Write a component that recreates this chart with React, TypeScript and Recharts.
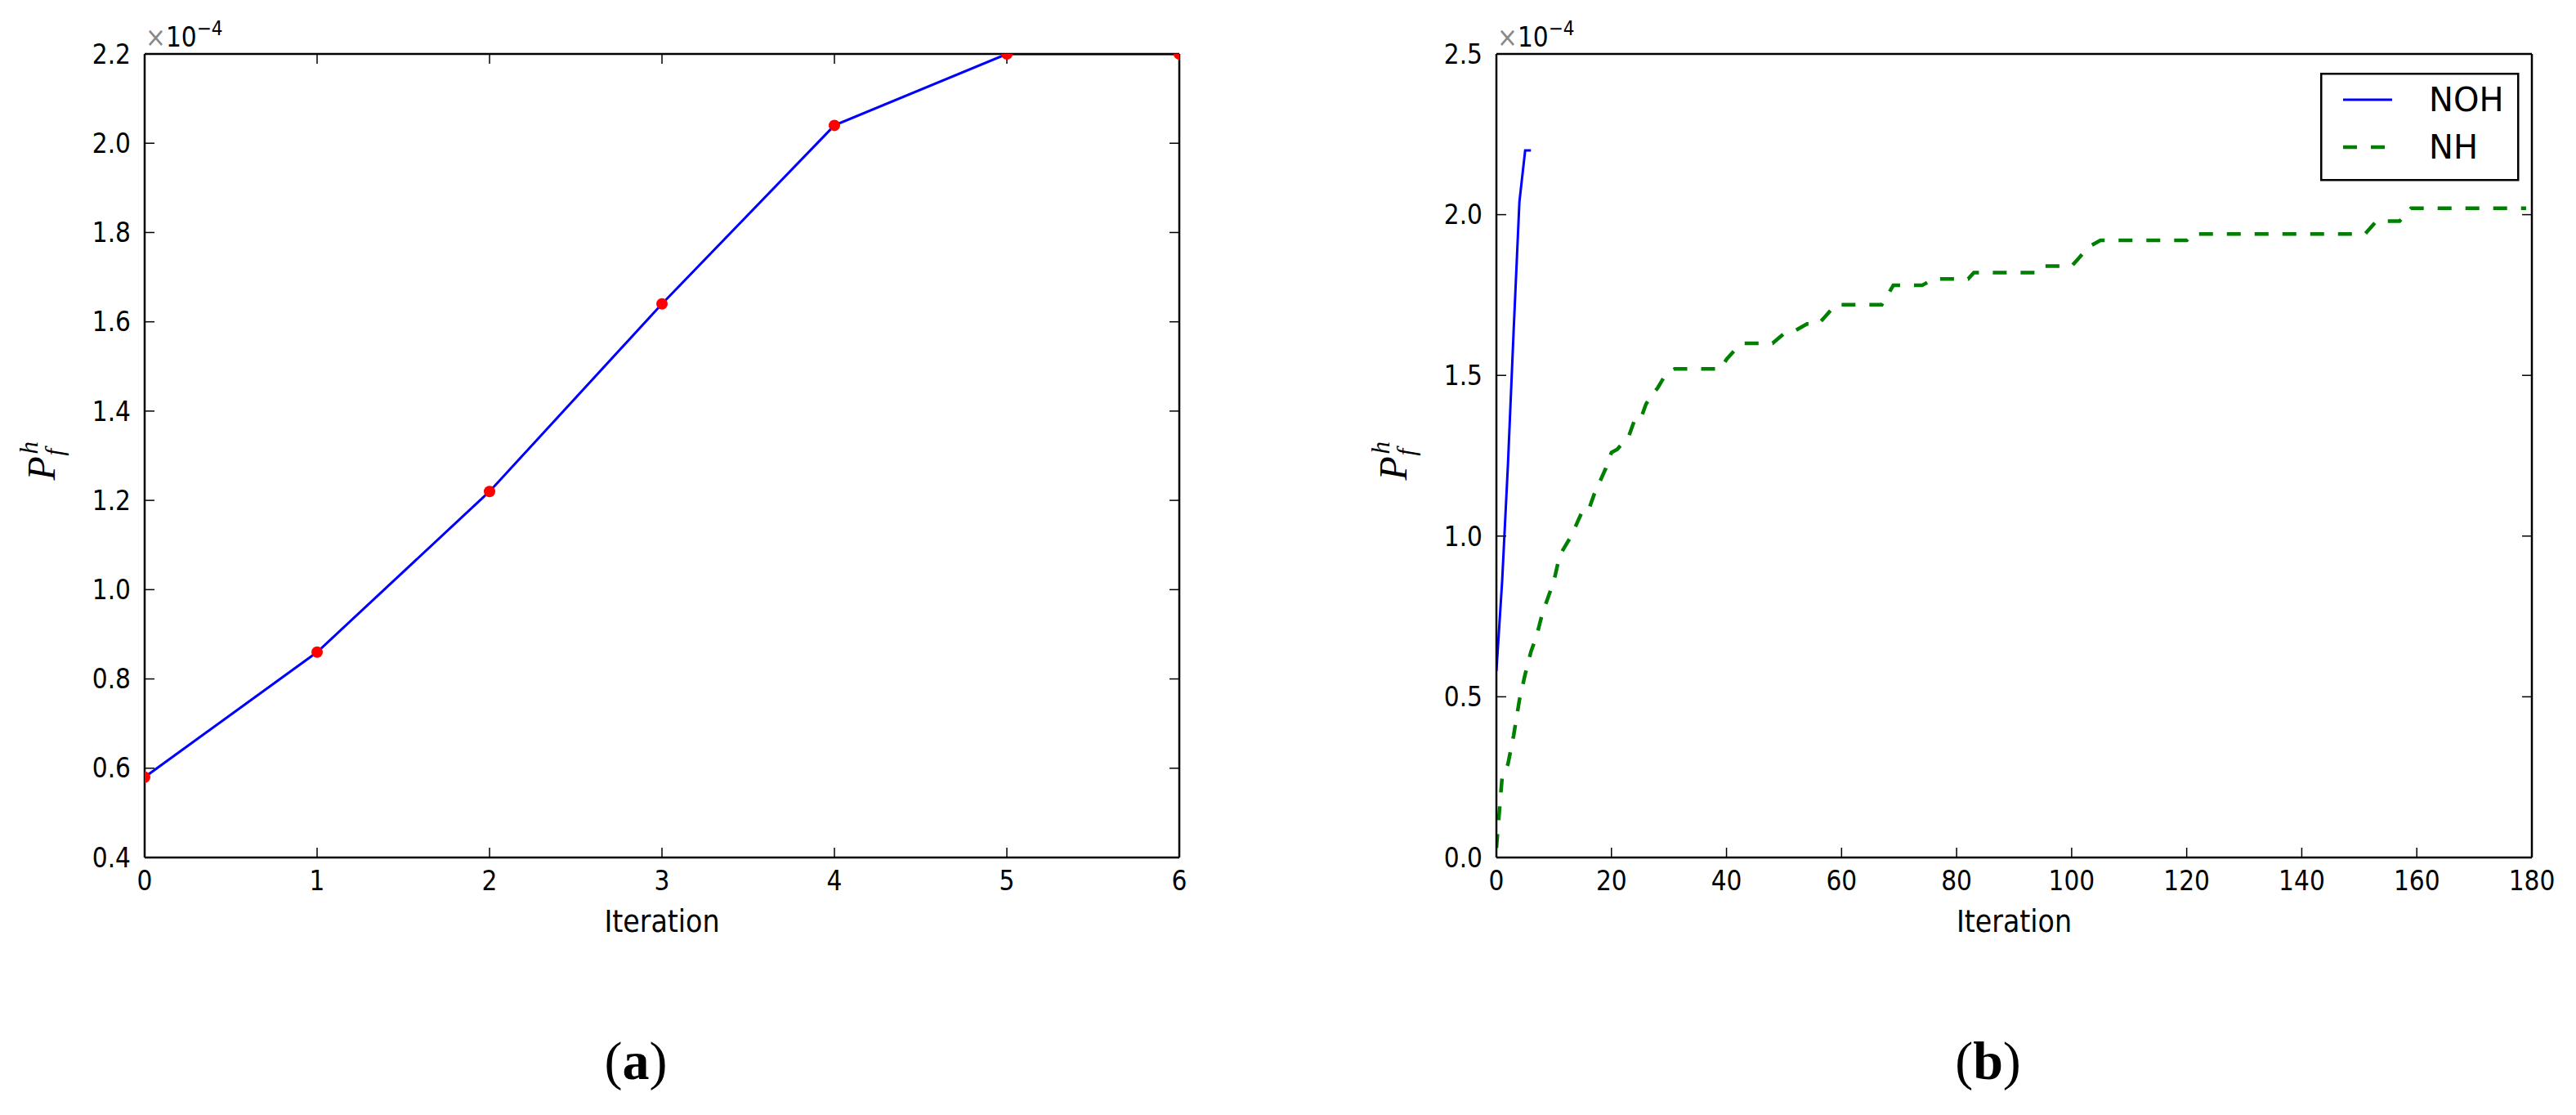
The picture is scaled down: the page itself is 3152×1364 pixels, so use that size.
import React from 'react';
import { LineChart, Line, XAxis, YAxis, Legend } from 'recharts';

// values are in units of 1e-4
const iterations = [0, 1, 2, 3, 4, 5, 6];
const nohValues = [0.58, 0.86, 1.22, 1.64, 2.04, 2.2, 2.2];

const nhIterations = [
  0, 1, 2, 3, 4, 5, 6, 7, 8, 9, 10, 11, 12, 13, 14, 15, 16, 17, 18, 19, 20, 21, 22, 23, 24, 25, 26, 27, 28, 29, 30,
  31, 39, 40, 41, 42, 43, 48, 50, 52, 54, 56, 57, 59, 67, 68, 69, 74, 76, 82, 83, 94, 95, 100, 101, 103, 105, 120,
  121, 151, 153, 157, 159, 179,
];
const nhValues = [
  0.03, 0.25, 0.29, 0.38, 0.49, 0.57, 0.64, 0.69, 0.76, 0.81, 0.86, 0.94, 0.97, 1.0, 1.04, 1.08, 1.08, 1.13, 1.17,
  1.21, 1.26, 1.27, 1.29, 1.31, 1.36, 1.36, 1.41, 1.44, 1.46, 1.49, 1.51, 1.52, 1.52, 1.55, 1.57, 1.59, 1.6, 1.6,
  1.63, 1.64, 1.66, 1.66, 1.68, 1.72, 1.72, 1.75, 1.78, 1.78, 1.8, 1.8, 1.82, 1.82, 1.84, 1.84, 1.86, 1.9, 1.92,
  1.92, 1.94, 1.94, 1.98, 1.98, 2.02, 2.02,
];

const legendOrder = ['NOH', 'NH'];

const ticksA_X = [0, 1, 2, 3, 4, 5, 6];
const ticksA_Y = [0.4, 0.6, 0.8, 1.0, 1.2, 1.4, 1.6, 1.8, 2.0, 2.2];
const ticksB_X = [0, 20, 40, 60, 80, 100, 120, 140, 160, 180];
const ticksB_Y = [0, 0.5, 1.0, 1.5, 2.0, 2.5];

const nohData = iterations.map((x, i) => ({ x, y: nohValues[i] }));
const nhData = nhIterations.map((x, i) => ({ x, y: nhValues[i] }));

const SANS = "'DejaVu Sans Condensed', 'DejaVu Sans', sans-serif";
const tickStyle = { fill: '#000', fontSize: 33, fontFamily: SANS };
const axisLine = { stroke: '#000', strokeWidth: 2.5 };
const tickLine = { stroke: '#000', strokeWidth: 1.5 };
const fmt1 = (v: number) => v.toFixed(1);
const blank = () => '';

function YTitle(props: any) {
  const vb = props.viewBox || { x: 0, y: 0, width: 0, height: 0 };
  const axisX = vb.x + vb.width;
  const px = axisX - 110;
  const py = vb.y + vb.height / 2 + 30;
  return (
    <g>
      <g transform={`translate(${px},${py}) rotate(-90)`} fontFamily="'Liberation Serif', serif" fontStyle="italic" fill="#000">
        <text x={0} y={0} fontSize={48}>P</text>
        <text x={32} y={-21} fontSize={31}>h</text>
        <text x={30} y={10} fontSize={31}>f</text>
      </g>
      <text x={axisX + 1} y={vb.y - 9} fontFamily={SANS} fontSize={33} fill="#000">
        <tspan fill="#888">×</tspan>
        <tspan>10</tspan>
        <tspan dy={-14} fontSize={24}>−4</tspan>
      </text>
    </g>
  );
}

function XTitle(props: any) {
  const vb = props.viewBox || { x: 0, y: 0, width: 0, height: 0 };
  const cx = vb.x + vb.width / 2;
  return (
    <g fill="#000">
      <text x={cx} y={vb.y + 91} textAnchor="middle" fontFamily={SANS} fontSize={37}>Iteration</text>
      <text x={cx - 32} y={vb.y + 271} textAnchor="middle" fontFamily="'Liberation Serif', serif" fontSize={66}>
        (<tspan fontWeight="bold">{props.tag}</tspan>)
      </text>
    </g>
  );
}

function LegendBox(props: any) {
  const items = [...(props.payload || [])].sort(
    (a: any, b: any) => legendOrder.indexOf(a.value) - legendOrder.indexOf(b.value)
  );
  return (
    <svg width={244} height={133} style={{ display: 'block' }}>
      <rect x={1.25} y={1.25} width={241} height={130} fill="#fff" stroke="#000" strokeWidth={2.5} />
      {items.map((it: any, i: number) => {
        const dashed = it.payload && it.payload.strokeDasharray;
        const y = 33 + i * 58;
        return (
          <g key={i}>
            <line x1={28} y1={y} x2={dashed ? 79 : 88} y2={y} stroke={it.color}
              strokeWidth={dashed ? 4.5 : 3} strokeDasharray={dashed || undefined} />
            <text x={133} y={y + 14} fontSize={40} fontFamily="'DejaVu Sans', sans-serif" fill="#000">{it.value}</text>
          </g>
        );
      })}
    </svg>
  );
}

function PanelA() {
  return (
    <LineChart width={1576} height={1364} data={nohData} margin={{ top: 65, right: 132, left: 77, bottom: 215 }}>
      <XAxis dataKey="x" type="number" domain={[0, 6]} ticks={ticksA_X} allowDataOverflow
        height={100} tickSize={-12} tickMargin={29} tick={tickStyle} axisLine={axisLine} tickLine={tickLine}
        label={<XTitle tag="a" />} />
      <XAxis xAxisId="top" orientation="top" type="number" domain={[0, 6]} ticks={ticksA_X} allowDataOverflow
        height={1} tickSize={-12} tickFormatter={blank} axisLine={axisLine} tickLine={tickLine} />
      <YAxis type="number" domain={[0.4, 2.2]} ticks={ticksA_Y} allowDataOverflow width={100}
        tickSize={-12} tickMargin={29} tick={tickStyle} tickFormatter={fmt1} axisLine={axisLine} tickLine={tickLine}
        label={<YTitle />} />
      <YAxis yAxisId="right" orientation="right" type="number" domain={[0.4, 2.2]} ticks={ticksA_Y} allowDataOverflow
        width={1} tickSize={-12} tickFormatter={blank} axisLine={axisLine} tickLine={tickLine} />
      <Line type="linear" dataKey="y" stroke="#0000ff" strokeWidth={3}
        dot={{ r: 7, fill: '#ff0000', stroke: '#ff0000', strokeWidth: 0 }} isAnimationActive={false} />
    </LineChart>
  );
}

function PanelB() {
  return (
    <LineChart width={1576} height={1364} margin={{ top: 65, right: 53, left: 155, bottom: 215 }}>
      <XAxis dataKey="x" type="number" domain={[0, 180]} ticks={ticksB_X} allowDataOverflow
        height={100} tickSize={-12} tickMargin={29} tick={tickStyle} axisLine={axisLine} tickLine={tickLine}
        label={<XTitle tag="b" />} />
      <XAxis xAxisId="top" orientation="top" type="number" domain={[0, 180]} ticks={ticksB_X} allowDataOverflow
        height={1} tickSize={-12} tickFormatter={blank} axisLine={axisLine} tickLine={tickLine} />
      <YAxis type="number" domain={[0, 2.5]} ticks={ticksB_Y} allowDataOverflow width={100}
        tickSize={-12} tickMargin={29} tick={tickStyle} tickFormatter={fmt1} axisLine={axisLine} tickLine={tickLine}
        label={<YTitle />} />
      <YAxis yAxisId="right" orientation="right" type="number" domain={[0, 2.5]} ticks={ticksB_Y} allowDataOverflow
        width={1} tickSize={-12} tickFormatter={blank} axisLine={axisLine} tickLine={tickLine} />
      <Legend layout="vertical" align="center" verticalAlign="middle" content={<LegendBox />}
        wrapperStyle={{ left: 1263, top: 89, width: 244, height: 133 }} />
      <Line name="NOH" data={nohData} type="linear" dataKey="y" stroke="#0000ff" strokeWidth={3}
        dot={false} isAnimationActive={false} />
      <Line name="NH" data={nhData} type="linear" dataKey="y" stroke="#008000" strokeWidth={4.5}
        strokeDasharray="17 17" dot={false} isAnimationActive={false} />
    </LineChart>
  );
}

export default function App() {
  return (
    <div style={{ position: 'absolute', left: 0, top: 0, width: 3152, height: 1364, background: '#fff', overflow: 'hidden' }}>
      <div style={{ position: 'absolute', left: 0, top: 0 }}>
        <PanelA />
      </div>
      <div style={{ position: 'absolute', left: 1576, top: 0 }}>
        <PanelB />
      </div>
    </div>
  );
}
